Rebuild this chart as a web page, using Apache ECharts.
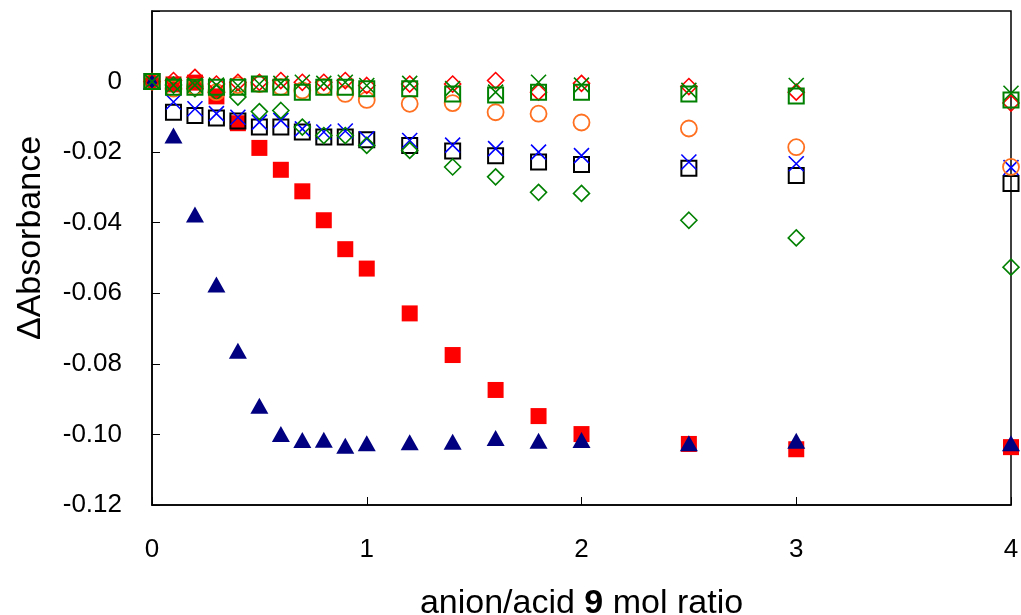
<!DOCTYPE html>
<html>
<head>
<meta charset="utf-8">
<script src="https://cdn.jsdelivr.net/npm/echarts@6/dist/echarts.min.js"></script>
<style>
html,body{margin:0;padding:0;background:#fff;}
#chart{width:1021px;height:615px;}
</style>
</head>
<body>
<div id="chart"></div>
<script>
// mol ratio (x)
var ratio = [0, 0.1, 0.2, 0.3, 0.4, 0.5, 0.6, 0.7, 0.8, 0.9, 1.0, 1.2, 1.4, 1.6, 1.8, 2.0, 2.5, 3.0, 4.0];
// series values (ΔAbsorbance)
var navyTriangle = [0, -0.0153, -0.0377, -0.0575, -0.0763, -0.0919, -0.0999, -0.1016, -0.1015, -0.1032, -0.1025, -0.1022, -0.1021, -0.1010, -0.1018, -0.1016, -0.1025, -0.1018, -0.1025];
var redSquare = [0, -0.0008, -0.0003, -0.0042, -0.0118, -0.0188, -0.0250, -0.0311, -0.0393, -0.0475, -0.0530, -0.0657, -0.0775, -0.0874, -0.0948, -0.0999, -0.1027, -0.1042, -0.1036];
var blackOpenSquare = [0, -0.0087, -0.0096, -0.0103, -0.0112, -0.0129, -0.0129, -0.0143, -0.0157, -0.0157, -0.0165, -0.0181, -0.0197, -0.0210, -0.0228, -0.0235, -0.0246, -0.0266, -0.0289];
var blueCross = [0, -0.0058, -0.0077, -0.0091, -0.0101, -0.0115, -0.0110, -0.0134, -0.0143, -0.0140, -0.0162, -0.0167, -0.0180, -0.0190, -0.0200, -0.0210, -0.0228, -0.0233, -0.0244];
var greenDiamond = [0, -0.0010, -0.0020, -0.0030, -0.0044, -0.0085, -0.0082, -0.0129, -0.0153, -0.0153, -0.0181, -0.0195, -0.0242, -0.0270, -0.0314, -0.0317, -0.0393, -0.0443, -0.0526];
var orangeCircle = [0, -0.0020, -0.0015, -0.0030, -0.0010, -0.0007, -0.0015, -0.0025, -0.0015, -0.0035, -0.0052, -0.0063, -0.0061, -0.0087, -0.0091, -0.0116, -0.0133, -0.0186, -0.0242];
var redDiamond = [0, 0.0003, 0.0012, -0.0007, -0.0002, -0.0002, 0.0003, -0.0002, -0.0002, 0.0003, -0.0011, -0.0007, -0.0007, 0.0003, -0.0030, -0.0005, -0.0014, -0.0030, -0.0061];
var greenOpenSquare = [0, -0.0016, -0.0016, -0.0016, -0.0016, -0.0007, -0.0016, -0.0030, -0.0016, -0.0016, -0.0020, -0.0020, -0.0035, -0.0038, -0.0030, -0.0030, -0.0035, -0.0041, -0.0052];
var greenCross = [0, -0.0010, -0.0010, -0.0010, -0.0012, -0.0007, -0.0005, -0.0002, -0.0005, -0.0002, -0.0011, -0.0005, -0.0020, -0.0030, -0.0002, -0.0010, -0.0025, -0.0011, -0.0033];
// axis ticks
var xTicks = [0, 1, 2, 3, 4];
var yTicks = [0.02, 0, -0.02, -0.04, -0.06, -0.08, -0.10, -0.12];

function pairs(ys) { return ratio.map(function (x, i) { return [x, ys[i]]; }); }

var CROSS = 'path://M0,0L10,10M10,0L0,10';
function mk(data, symbol, size, fill, stroke, bw) {
  return {
    type: 'scatter',
    data: pairs(data),
    symbol: symbol,
    symbolSize: size,
    itemStyle: { color: fill, borderColor: stroke, borderWidth: bw, opacity: 1 },
    emphasis: { disabled: true },
    z: 3
  };
}

var chart = echarts.init(document.getElementById('chart'), null, { renderer: 'canvas' });
chart.setOption({
  animation: false,
  backgroundColor: '#ffffff',
  grid: { left: 152, right: 10, top: 11, bottom: 110, containLabel: false, outerBoundsMode: 'none',
    show: true, borderColor: '#000', borderWidth: 1.5, backgroundColor: 'transparent' },
  xAxis: {
    type: 'value', min: xTicks[0], max: xTicks[xTicks.length - 1], interval: 1,
    axisLine: { show: true, onZero: false, lineStyle: { color: '#000', width: 1.5 } },
    axisTick: { show: true, inside: true, length: 8, lineStyle: { color: '#000', width: 1 } },
    axisLabel: { fontFamily: 'Liberation Sans, Arial, sans-serif', fontSize: 26, color: '#000', margin: 32 },
    splitLine: { show: false },
    name: 'anion/acid {b|9} mol ratio',
    nameLocation: 'middle', nameGap: 82,
    nameTextStyle: { fontFamily: 'Liberation Sans, Arial, sans-serif', fontSize: 34, color: '#000',
      rich: { b: { fontFamily: 'Liberation Sans, Arial, sans-serif', fontSize: 34, fontWeight: 'bold', color: '#000' } } }
  },
  yAxis: {
    type: 'value', min: yTicks[yTicks.length - 1], max: yTicks[0], interval: 0.02,
    axisLine: { show: true, onZero: false, lineStyle: { color: '#000', width: 1.5 } },
    axisTick: { show: true, inside: true, length: 8, lineStyle: { color: '#000', width: 1 } },
    axisLabel: {
      fontFamily: 'Liberation Sans, Arial, sans-serif', fontSize: 26, color: '#000', margin: 30,
      formatter: function (v) {
        var r = Math.round(v * 100) / 100;
        if (r > 0.001) return '';
        if (Math.abs(r) < 1e-9) return '0';
        return r.toFixed(2);
      }
    },
    splitLine: { show: false },
    name: 'ΔAbsorbance',
    nameLocation: 'middle', nameGap: 104, nameRotate: 90,
    nameTextStyle: { fontFamily: 'Liberation Sans, Arial, sans-serif', fontSize: 34, color: '#000', padding: [0, 0, 0, 40] }
  },
  series: [
    mk(redSquare, 'rect', 16, '#FF0000', '#FF0000', 0),
    mk(navyTriangle, 'triangle', [18, 16], '#000080', '#000080', 0),
    mk(blackOpenSquare, 'rect', 15, 'transparent', '#000000', 2),
    mk(blueCross, CROSS, 15, 'transparent', '#0000FF', 1.6),
    mk(greenDiamond, 'diamond', 16, 'transparent', '#008000', 1.6),
    mk(orangeCircle, 'circle', 16, 'transparent', '#FF7020', 1.8),
    mk(redDiamond, 'diamond', 16, 'transparent', '#FF0000', 1.6),
    mk(greenOpenSquare, 'rect', 15, 'transparent', '#008000', 2),
    mk(greenCross, CROSS, 15, 'transparent', '#008000', 1.6)
  ]
});
</script>
</body>
</html>
